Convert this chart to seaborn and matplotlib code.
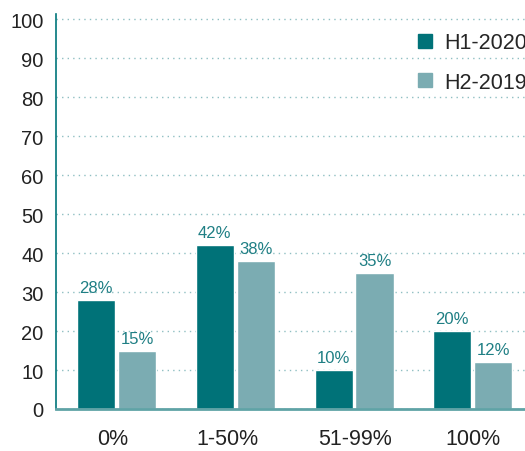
import matplotlib
matplotlib.use("Agg")
import matplotlib.pyplot as plt
import seaborn as sns
import pandas as pd
from matplotlib.lines import Line2D
from matplotlib.transforms import ScaledTranslation

categories = ["0%", "1-50%", "51-99%", "100%"]
h1_2020 = [28, 42, 10, 20]
h2_2019 = [15, 38, 35, 12]
series_names = ["H1-2020", "H2-2019"]
colors = ["#007278", "#7BACB2"]

df = pd.DataFrame({
    "cat": categories * 2,
    "val": h1_2020 + h2_2019,
    "series": [series_names[0]] * 4 + [series_names[1]] * 4,
})

sns.set_style("white")
plt.rcParams["font.family"] = ["Liberation Sans", "DejaVu Sans"]

fig = plt.figure(figsize=(5.25, 4.52), dpi=100)
ax = fig.add_axes([56 / 525, 42 / 452, 1 - 56 / 525, (410 - 15) / 452])

sns.barplot(data=df, x="cat", y="val", hue="series", order=categories,
            hue_order=series_names, palette=colors, width=0.69, gap=0.07,
            saturation=1, ax=ax, legend=False, zorder=3)

for cont in ax.containers:
    ax.bar_label(cont, labels=[f"{int(v.get_height())}%" for v in cont],
                 padding=3.5, color="#1f7f84", fontsize=12)

ax.set_xlim(-0.509, 3.439)
ax.set_ylim(0, 101.3)
ax.set_yticks(range(0, 101, 10))
ax.yaxis.grid(True, linestyle=(0, (1, 3)), color="#8fbfc2", linewidth=1, zorder=0)
ax.set_axisbelow(True)
ax.set_xlabel("")
ax.set_ylabel("")
ax.tick_params(axis="both", length=0, colors="#222222")
ax.tick_params(axis="x", pad=14, labelsize=15.5)
ax.tick_params(axis="y", pad=9, labelsize=14.5)
# small horizontal nudges of category labels as in the reference
label_shifts_px = [-4, -8, 1, 0]
for lab, dx in zip(ax.get_xticklabels(), label_shifts_px):
    lab.set_transform(lab.get_transform() + ScaledTranslation(dx / 100, 0, fig.dpi_scale_trans))

for s in ["top", "right"]:
    ax.spines[s].set_visible(False)
ax.spines["left"].set_color("#00767a")
ax.spines["left"].set_linewidth(1.2)
ax.spines["bottom"].set_color("#5fa3a6")
ax.spines["bottom"].set_linewidth(2)
ax.spines["bottom"].set_zorder(4)

handles = [Line2D([], [], marker="s", linestyle="", markersize=10.5,
                  markerfacecolor=c, markeredgecolor=c) for c in colors]
ax.legend(handles, series_names, loc="upper left", bbox_to_anchor=(0.745, 0.975),
          frameon=False, fontsize=15.5, labelspacing=0.85, handletextpad=0.4,
          handlelength=1.0, borderaxespad=0)

fig.savefig("out.png", dpi=100)
